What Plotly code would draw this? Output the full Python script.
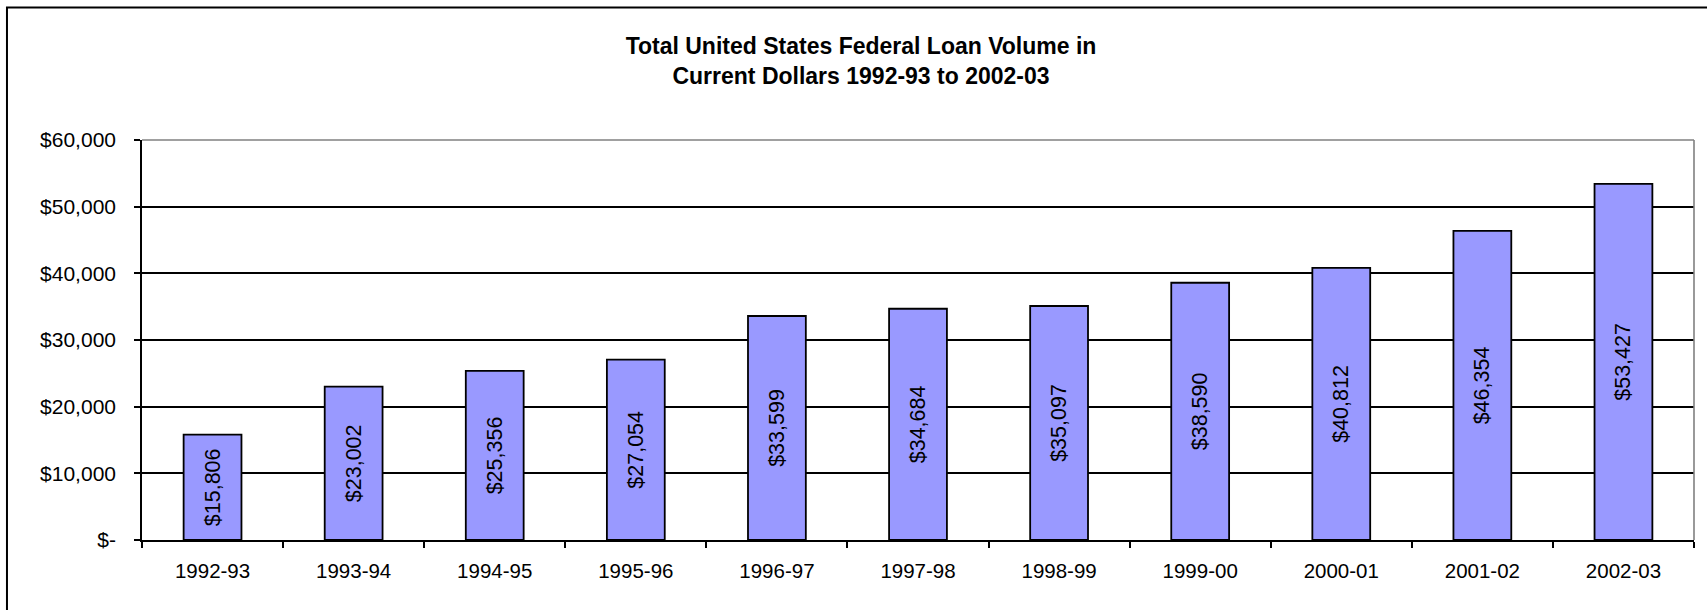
import plotly.graph_objects as go

# Federal loan volume (millions of current dollars) by academic year
years = ["1992-93", "1993-94", "1994-95", "1995-96", "1996-97", "1997-98",
         "1998-99", "1999-00", "2000-01", "2001-02", "2002-03"]
loan_volume = [15806, 23002, 25356, 27054, 33599, 34684,
               35097, 38590, 40812, 46354, 53427]

y_tick_values = [0, 10000, 20000, 30000, 40000, 50000, 60000]
y_tick_labels = ["$-", "$10,000", "$20,000", "$30,000", "$40,000", "$50,000", "$60,000"]

title_text = ("<b>Total United States Federal Loan Volume in<br>"
              "Current Dollars 1992-93 to 2002-03</b>")

FONT = "Liberation Sans, Arial, Helvetica, sans-serif"

fig = go.Figure()
fig.add_trace(go.Bar(
    x=years,
    y=loan_volume,
    width=0.41,
    marker=dict(color="#9999FF", line=dict(color="#000000", width=1.8)),
    texttemplate="$%{y:,.0f}",
    textposition="inside",
    insidetextanchor="middle",
    textangle=-90,
    textfont=dict(family=FONT, size=21.5, color="#000000"),
    hoverinfo="skip",
))

fig.update_layout(
    width=1707,
    height=610,
    margin=dict(l=142, r=13, t=140, b=70),
    paper_bgcolor="#FFFFFF",
    plot_bgcolor="#FFFFFF",
    showlegend=False,
    font=dict(family=FONT, size=20, color="#000000"),
    title=dict(
        text=title_text,
        xref="container", yref="container",
        x=0.5044, y=0.9107,
        xanchor="center", yanchor="middle",
        font=dict(family=FONT, size=23, color="#000000"),
    ),
    xaxis=dict(
        type="category",
        showgrid=False,
        showline=True, linecolor="#000000", linewidth=1.6,
        ticks="outside", tickson="boundaries", ticklen=6, tickwidth=1.6,
        tickcolor="#000000",
        ticklabelstandoff=12,
        tickfont=dict(family=FONT, size=20.5, color="#000000"),
        fixedrange=True,
    ),
    yaxis=dict(
        range=[0, 60000],
        tickvals=y_tick_values,
        ticktext=y_tick_labels,
        showgrid=True, gridcolor="#000000", gridwidth=1.5,
        zeroline=False,
        showline=True, linecolor="#000000", linewidth=1.6,
        ticks="outside", ticklen=6, tickwidth=1.6, tickcolor="#000000",
        ticklabelstandoff=14,
        tickfont=dict(family=FONT, size=21, color="#000000"),
        fixedrange=True,
    ),
    shapes=[
        # grey top and right edges of the plot area
        dict(type="line", xref="paper", yref="paper", x0=0, x1=1, y0=1, y1=1,
             line=dict(color="#808080", width=1.6)),
        dict(type="line", xref="paper", yref="paper", x0=1, x1=1, y0=0, y1=1,
             line=dict(color="#808080", width=1.6)),
        # chart-area frame
        dict(type="rect", xref="paper", yref="paper",
             x0=-0.087, x1=1.2, y0=-0.4, y1=1.331,
             line=dict(color="#000000", width=2), fillcolor="rgba(0,0,0,0)"),
    ],
)

fig.write_html("out.html")
